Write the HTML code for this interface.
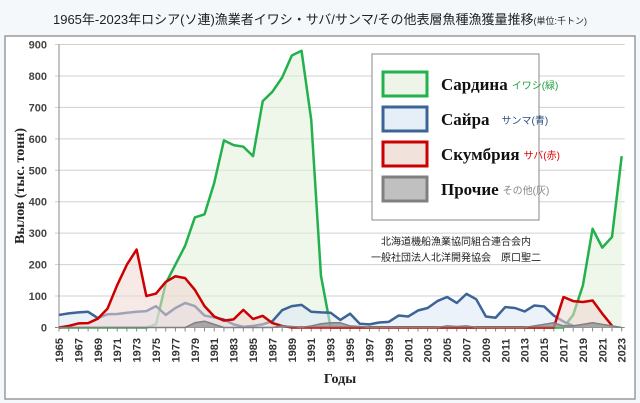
<!DOCTYPE html>
<html><head><meta charset="utf-8">
<style>
body{margin:0;background:#fff;}
#wrap{position:relative;width:640px;height:403px;overflow:hidden;background:#f4f8fb;}
svg text{font-family:"Liberation Sans","Noto Sans CJK JP",sans-serif;}
</style></head>
<body>
<div id="wrap">
<svg id="chart" width="640" height="403"></svg>
</div>
<script>
const years = [];
for (let y = 1965; y <= 2023; y++) years.push(y);
const sardine = [0,0,0,0,0,0,0,0,0,0,10,140,200,260,350,360,460,595,580,575,545,720,750,795,865,880,660,165,0,0,0,0,0,0,0,0,0,0,0,0,0,0,0,0,0,0,0,0,0,0,0,0,0,40,134,314,254,288,545];
const saury = [40,45,48,50,30,42,43,47,50,52,68,40,62,78,68,38,32,25,10,2,5,10,20,55,68,72,50,48,47,24,44,12,10,16,18,38,35,54,62,84,97,78,107,90,35,31,65,62,51,70,67,38,19,5,null,null,null,null,null];
const mackerel = [0,5,13,14,28,60,135,200,248,100,108,145,163,157,120,68,35,22,26,56,27,37,14,5,0,0,0,0,0,0,0,0,0,0,0,0,0,0,0,0,0,0,0,0,0,0,0,0,0,0,0,0,97,84,81,86,44,6,null];
const others = [0,0,0,0,0,0,0,0,0,0,0,0,0,0,15,20,10,0,0,0,0,0,0,5,3,0,5,12,15,15,5,3,0,0,0,0,0,0,0,0,5,3,5,0,0,0,0,0,0,5,10,15,5,5,10,15,10,5,0];
const yTicks = [0,100,200,300,400,500,600,700,800,900];

const svg = document.getElementById('chart');
const NS = 'http://www.w3.org/2000/svg';
const X0 = 59, X1 = 621.7, Y0 = 327.5, Y1 = 44.5;
const xS = i => X0 + (X1 - X0) * i / (years.length - 1);
const yS = v => Y0 - (Y0 - Y1) * v / 900;
function mk(tag, attrs, parent) {
  const e = document.createElementNS(NS, tag);
  for (const k in attrs) e.setAttribute(k, attrs[k]);
  (parent || svg).appendChild(e);
  return e;
}
let r = mk('rect', {x:5,y:36,width:630,height:363,fill:'#fff',stroke:'#9a9a9a','stroke-width':1.5});


let t = mk('text', {x:320,y:24,'text-anchor':'middle','font-size':13,fill:'#222'});
t.textContent = '1965年-2023年ロシア(ソ連)漁業者イワシ・サバ/サンマ/その他表層魚種漁獲量推移';
const ts = mk('tspan', {'font-size':9}, t); ts.textContent = '(単位:千トン)';



yTicks.forEach(v => {
  const l = mk('line', {x1:X0-4,x2:X1+3,y1:yS(v),y2:yS(v),stroke:v===0?'#888':'#d0d0d0','stroke-width':1});
  
  
  const tx = mk('text', {x:X0-12,y:yS(v)+4,'text-anchor':'end','font-size':11,'font-weight':'bold',fill:'#444'});
  tx.textContent = v;
  
  
});
mk('line', {x1:X0,x2:X0,y1:Y1,y2:Y0,stroke:'#888'});
years.forEach((yr, i) => {
  mk('line', {x1:xS(i),x2:xS(i),y1:Y0,y2:Y0+4,stroke:'#888'});
  if (i % 2 === 0) {
    const tx = mk('text', {transform:`translate(${xS(i)+4},${Y0+35}) rotate(-90)`,'font-size':11,'font-weight':'bold',fill:'#333'});
    tx.textContent = yr;
    
    
  }
});
let at = mk('text', {x:340,y:383,'text-anchor':'middle','font-size':14,'font-weight':'bold',fill:'#222','font-family':'"Liberation Serif",serif'});
at.textContent = 'Годы';


at.style.fontFamily = '"Liberation Serif",serif';
let yt = mk('text', {transform:'translate(24,186) rotate(-90)','text-anchor':'middle','font-size':14,'font-weight':'bold',fill:'#222'});
yt.textContent = 'Вылов (тыс. тонн)';
yt.style.fontFamily = '"Liberation Serif",serif';



function series(data, stroke, fill, sw, name) {
  let segs = [], cur = [];
  data.forEach((v, i) => { if (v === null) { if (cur.length) segs.push(cur); cur = []; } else cur.push([xS(i), yS(v)]); });
  if (cur.length) segs.push(cur);
  segs.forEach(s => {
    const pts = s.map(p => p.join(',')).join(' ');
    const a = mk('polygon', {points: pts + ` ${s[s.length-1][0]},${Y0} ${s[0][0]},${Y0}`, fill: fill});
    
    
    const l = mk('polyline', {points: pts, fill:'none', stroke: stroke, 'stroke-width': sw, 'stroke-linejoin':'round'});
    
    
  });
}
series(sardine, '#22b14c', 'rgba(226,240,217,0.55)', 2.5, 'sardine');
series(saury, '#3c6496', 'rgba(220,232,246,0.55)', 2.5, 'saury');
series(mackerel, '#cc0000', 'rgba(240,215,210,0.55)', 2.5, 'mackerel');
series(others, '#808080', 'rgba(150,150,150,0.8)', 1.5, 'others');

const lg = mk('g', {});


mk('rect', {x:372,y:54,width:167,height:166,fill:'#fff',stroke:'#888','stroke-width':1}, lg);
const items = [
  ['Сардина','イワシ(緑)','#22b14c','#eef5e8','#22a040',0],
  ['Сайра','サンマ(青)','#3c6496','#e6eef8','#2f4f80',8],
  ['Скумбрия','サバ(赤)','#cc0000','#f2e2dc','#e00000',0],
  ['Прочие','その他(灰)','#808080','#c0c0c0','#888',0]
];
items.forEach((it, k) => {
  const cy = 84 + k * 35;
  const sw = mk('rect', {x:383,y:cy-12,width:44,height:24,fill:it[3],stroke:it[2],'stroke-width':3}, lg);
  
  
  const tx = mk('text', {x:441,y:cy+6,'font-size':17,'font-weight':'bold',fill:'#111'}, lg);
  tx.style.fontFamily = '"Liberation Serif",serif';
  tx.textContent = it[0];
  
  
  const len = tx.getComputedTextLength ? tx.getComputedTextLength() : 70;
  const jp = mk('text', {x:441+len+4+it[5],y:cy+5,'font-size':10,fill:it[4]}, lg);
  jp.textContent = it[1];
  
  
});
[['北海道機船漁業協同組合連合会内',245],['一般社団法人北洋開発協会　原口聖二',261]].forEach(a => {
  const tx = mk('text', {x:456,y:a[1],'text-anchor':'middle','font-size':10,fill:'#222'});
  tx.textContent = a[0];
  
  
});
</script>
</body></html>
